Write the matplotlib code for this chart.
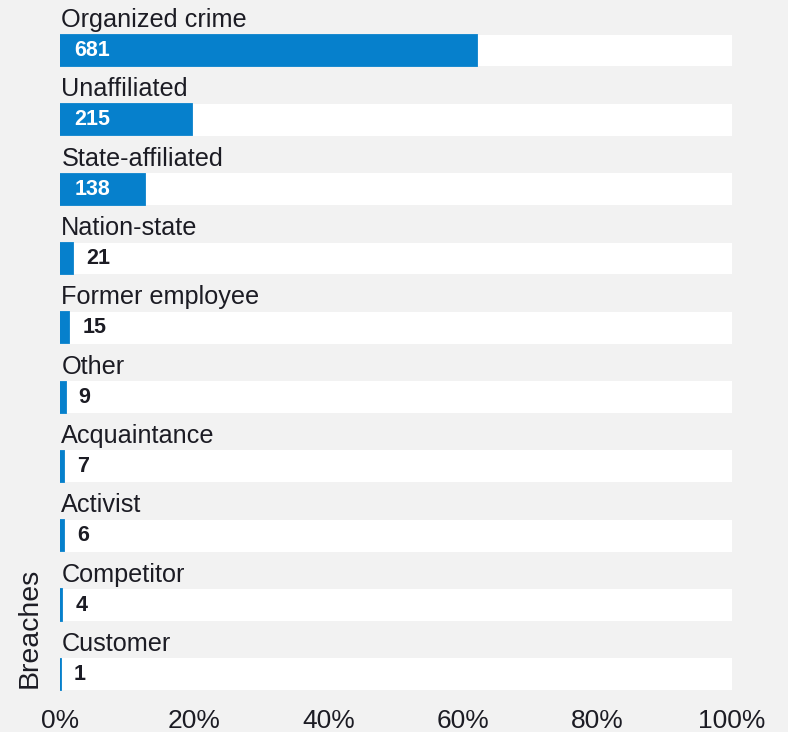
import matplotlib
matplotlib.use("Agg")
import matplotlib.pyplot as plt
import numpy as np

categories = ["Organized crime", "Unaffiliated", "State-affiliated", "Nation-state",
              "Former employee", "Other", "Acquaintance", "Activist", "Competitor", "Customer"]
breaches = [681, 215, 138, 21, 15, 9, 7, 6, 4, 1]
tick_values = [0, 0.2, 0.4, 0.6, 0.8, 1.0]
tick_labels = ["0%", "20%", "40%", "60%", "80%", "100%"]

BG = "#f2f2f2"
BLUE = "#0680cc"
TXT = "#1c1c24"

plt.rcParams['font.family'] = ['Liberation Sans', 'DejaVu Sans']

W, H = 788, 732
fig = plt.figure(figsize=(W / 100, H / 100), dpi=100, facecolor=BG)
ax = fig.add_axes([60 / W, 32 / H, 672 / W, 700 / H], facecolor=BG)

total = float(sum(breaches))
fracs = [b / total for b in breaches]
y = np.arange(len(categories))
bh = 0.45

ax.barh(y, [1.0] * len(y), height=0.46, color="white", left=0)
ax.barh(y, fracs, height=bh, color=BLUE, edgecolor=BLUE, linewidth=1.3, left=0)

for i, (cat, val, f) in enumerate(zip(categories, breaches, fracs)):
    ax.text(0.002, i - 0.44, cat, ha="left", va="center", fontsize=18.2, color=TXT)
    if f > 0.08:
        ax.annotate(str(val), xy=(0, i), xytext=(10.5, 0), textcoords="offset points",
                    ha="left", va="center", fontsize=15.5, fontweight="bold", color="white")
    else:
        ax.annotate(str(val), xy=(f, i), xytext=(9.5, 0), textcoords="offset points",
                    ha="left", va="center", fontsize=15.5, fontweight="bold", color=TXT)

ax.set_xlim(0, 1)
ax.set_ylim(9.37, -0.729)
ax.set_xticks(tick_values)
ax.set_xticklabels(tick_labels, fontsize=19, color=TXT)
ax.set_yticks([])
ax.tick_params(axis="x", length=0, pad=6.5)
for s in ax.spines.values():
    s.set_visible(False)

fig.text(30 / W, 1 - 628 / H, "Breaches", rotation=90, ha="center", va="center",
         fontsize=20.5, color=TXT)

fig.savefig("out.png", dpi=100, facecolor=BG)
